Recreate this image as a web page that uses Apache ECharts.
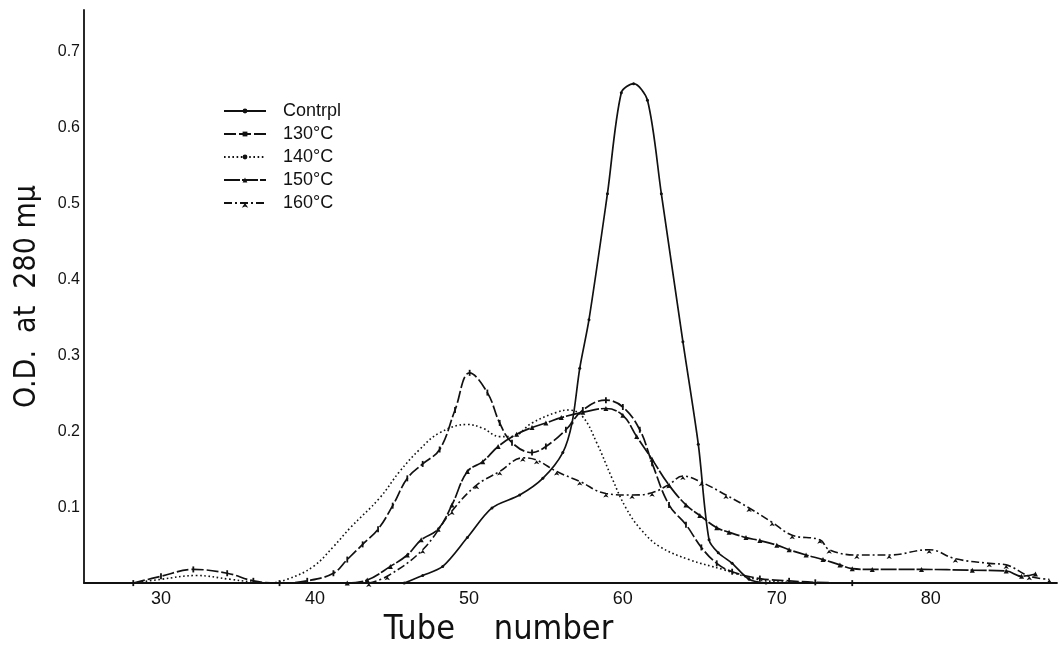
<!DOCTYPE html>
<html>
<head>
<meta charset="utf-8">
<script src="https://cdn.jsdelivr.net/npm/echarts@6/dist/echarts.min.js"></script>
<style>html,body{margin:0;padding:0;background:#fff;}#c{width:1060px;height:652px;}</style>
</head>
<body>
<div id="c"></div>
<script>
// ---- data (tube number, O.D. at 280 mμ) ----
const seriesNames = ['Contrpl', '130°C', '140°C', '150°C', '160°C'];
const xTickLabels = [30, 40, 50, 60, 70, 80];
const yTickLabels = [0.1, 0.2, 0.3, 0.4, 0.5, 0.6, 0.7];

const control = [[45.8,0],[47,0.01],[48.3,0.022],[49.9,0.06],[51.5,0.099],[53.3,0.116],[54.8,0.138],[56.1,0.172],[56.7,0.211],[57.2,0.283],[57.8,0.347],[59.0,0.513],[59.9,0.646],[60.7,0.658],[61.6,0.636],[62.5,0.513],[63.9,0.318],[64.9,0.183],[65.6,0.057],[66.2,0.04],[67.1,0.026],[68.2,0.005],[69.3,0]];

const t130 = [[28.2,0],[30,0.009],[32.1,0.018],[34.3,0.013],[36,0.003],[37.7,0],[39.5,0.003],[41.2,0.013],[42.1,0.031],[43.1,0.051],[44.1,0.071],[45.05,0.102],[46,0.138],[47,0.157],[48.1,0.176],[49.1,0.228],[50.05,0.277],[51.2,0.251],[52,0.211],[52.8,0.185],[54.1,0.172],[55,0.18],[56.3,0.202],[57.4,0.228],[58.9,0.241],[60,0.232],[61.1,0.202],[61.9,0.158],[63,0.103],[64.1,0.077],[65.1,0.047],[66.1,0.026],[67.1,0.015],[68.9,0.006],[70.8,0.003],[72.5,0.001],[74.9,0]];

const t140 = [[28.2,0],[30,0.005],[32.3,0.01],[34.5,0.005],[36.9,0],[38.2,0.005],[39.9,0.022],[41.2,0.048],[42.3,0.073],[44.2,0.112],[45.5,0.147],[46.8,0.176],[48.1,0.198],[49.9,0.209],[50.9,0.204],[52,0.193],[52.8,0.193],[54.1,0.211],[55.7,0.225],[56.5,0.228],[57.4,0.219],[58.3,0.185],[59.3,0.138],[60.2,0.099],[61.2,0.07],[62.4,0.048],[64.3,0.031],[66.5,0.018],[68.7,0.005],[71,0.001],[76,0]];

const t150 = [[42.1,0],[43.4,0.004],[44.9,0.022],[46,0.037],[46.9,0.057],[48,0.071],[48.9,0.103],[49.9,0.147],[50.9,0.16],[51.9,0.18],[53.1,0.196],[54.1,0.205],[55,0.211],[56,0.218],[57.4,0.225],[58.9,0.23],[60,0.221],[60.9,0.193],[61.9,0.163],[63,0.129],[64.1,0.103],[65,0.089],[66.1,0.073],[66.9,0.067],[68,0.06],[68.9,0.056],[70,0.05],[70.8,0.044],[71.9,0.037],[73,0.031],[74.1,0.024],[74.9,0.019],[76.2,0.018],[79.4,0.018],[82.7,0.017],[84.9,0.016],[85.9,0.009],[86.8,0.012]];

const t160 = [[43.5,0],[44.7,0.009],[47,0.044],[48.9,0.095],[50.5,0.129],[52,0.147],[53.5,0.165],[54.4,0.162],[55.7,0.147],[57.2,0.134],[58.9,0.118],[60.6,0.116],[61.9,0.119],[63,0.13],[63.9,0.141],[65.1,0.133],[66.7,0.116],[68.2,0.099],[69.7,0.08],[71,0.063],[72.8,0.057],[73.4,0.044],[75.2,0.037],[77.3,0.037],[79.9,0.044],[81.6,0.032],[83.8,0.026],[84.9,0.024],[86.4,0.009],[87.7,0.005]];

// ---- chart ----
const INK = '#111';
const SANS = "'Liberation Sans','Helvetica','Arial',sans-serif";
const NARROW = "'Liberation Sans Narrow','DejaVu Sans Condensed','Liberation Sans',sans-serif";
const chart = echarts.init(document.getElementById('c'), null, {renderer: 'canvas'});

function line(name, data, dash, symbol, symbolSize, smooth, width) {
  return {
    name: name, type: 'line', data: data, smooth: smooth,
    symbol: symbol, symbolSize: symbolSize, showSymbol: symbol !== 'none',
    lineStyle: {color: INK, width: width, type: dash},
    itemStyle: {color: INK, borderWidth: 0},
    emphasis: {disabled: true}, z: 3
  };
}

chart.setOption({
  animation: false,
  backgroundColor: '#fff',
  grid: {left: 84, right: 2, top: 10, bottom: 55, containLabel: false},
  legend: {
    orient: 'vertical', left: 218, top: 96,
    itemWidth: 42, itemHeight: 6, itemGap: 3,
    data: seriesNames,
    textStyle: {color: INK, fontSize: 18, fontFamily: SANS, lineHeight: 20, padding: [0,0,0,12]},
    selectedMode: false
  },
  xAxis: {
    type: 'value', min: 25, max: 88.2, interval: 5,
    name: 'Tube    number', nameLocation: 'middle', nameGap: 26,
    nameTextStyle: {color: INK, fontSize: 34, fontFamily: NARROW, padding: [0, 144, 0, 0]},
    axisLine: {show: true, onZero: false, lineStyle: {color: INK, width: 1.8}},
    axisTick: {show: false},
    splitLine: {show: false},
    axisLabel: {
      color: INK, fontSize: 18, fontFamily: SANS, margin: 7,
      formatter: function (v) { return xTickLabels.indexOf(v) >= 0 ? String(v) : ''; }
    }
  },
  yAxis: {
    type: 'value', min: 0, max: 0.755, interval: 0.1,
    name: 'O.D.  at  280 mμ', nameLocation: 'middle', nameGap: 42,
    nameTextStyle: {color: INK, fontSize: 30, fontFamily: NARROW},
    axisLine: {show: true, lineStyle: {color: INK, width: 1.8}},
    axisTick: {show: false},
    splitLine: {show: false},
    axisLabel: {
      color: INK, fontSize: 16, fontFamily: SANS, margin: 4,
      formatter: function (v) {
        const r = Math.round(v * 10) / 10;
        return (Math.abs(v - r) < 1e-6 && yTickLabels.indexOf(r) >= 0) ? r.toFixed(1) : '';
      }
    }
  },
  series: [
    line(seriesNames[0], control, 'solid', 'circle', 3, 0.3, 1.7),
    line(seriesNames[1], t130, [12, 3], 'rect', [1.8, 6], 0.4, 1.7),
    line(seriesNames[2], t140, [1.6, 2.6], 'none', 0, 0.4, 1.6),
    line(seriesNames[3], t150, [16, 2], 'triangle', 5, 0.4, 1.7),
    line(seriesNames[4], t160, [8, 3, 2, 3], 'arrow', [4, 4], 0.4, 1.6)
  ]
});
</script>
</body>
</html>
